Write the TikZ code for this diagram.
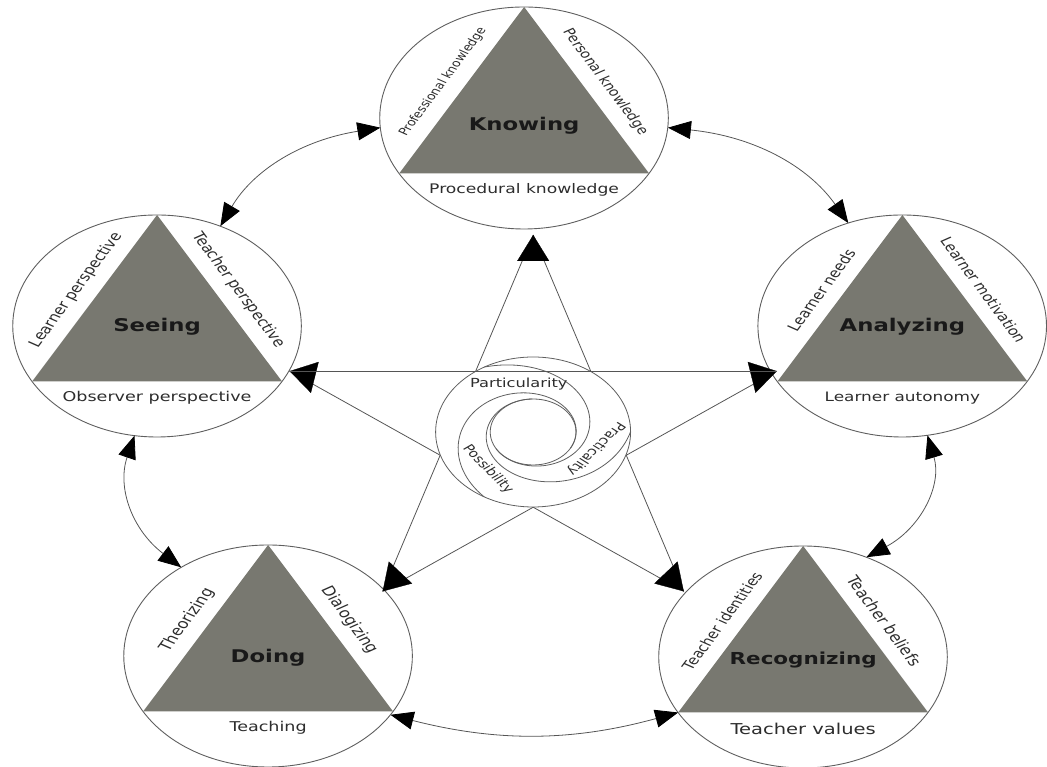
\documentclass[tikz,border=0pt]{standalone}
\usepackage{fontspec}
\setmainfont{DejaVu Sans}
\usetikzlibrary{calc,arrows.meta}
\definecolor{trigray}{RGB}{120,120,112}
\definecolor{edgegray}{RGB}{95,95,95}
\definecolor{linegray}{RGB}{85,85,85}
\definecolor{labcol}{RGB}{45,45,45}
\newcommand\fsz[1]{\fontsize{#1}{#1}\selectfont}
\tikzset{
  unit/.style={circle, draw=edgegray, line width=0.9pt, fill=white, minimum size=222pt, inner sep=0pt, outer sep=0pt, transform shape},
  tri/.style={fill=trigray},
  ttl/.style={transform shape, inner sep=0pt, font=\bfseries\fsz{17.5}, text=black!90},
  lab/.style={transform shape, inner sep=0pt, text=labcol},
  link/.style={draw=linegray, line width=0.8pt, {Triangle[length=23pt,width=18pt,color=black]}-{Triangle[length=23pt,width=18pt,color=black]}},
  starline/.style={draw=linegray, line width=0.8pt},
  startip/.style={draw=black, line width=0.3pt, -{Triangle[length=26pt,width=32pt,color=black]}},
  swirl/.style={draw=edgegray, line width=0.8pt},
  swlab/.style={transform shape, inner sep=0pt, text=labcol, font=\fsz{11.5}},
}
\newcommand\kunit[7]{%
  \node[unit] (#1) at (#2) {};
  \fill[tri] (#1.90) -- (#1.210) -- (#1.330) -- cycle;
  \node[ttl] (#1-t) at ($(#1)+(0,#3)$) {#4};
  \node[lab, rotate=60] (#1-l) at ($(#1)+(150:72)$) {#5};
  \node[lab, rotate=-60] (#1-r) at ($(#1)+(30:72)$) {#6};
  \node[lab] (#1-b) at ($(#1)+(0,-72)$) {#7};
}
\begin{document}
\begin{tikzpicture}[x=1pt, y=1pt, xscale=1.3]
\useasboundingbox (0,0) rectangle (805.385,767);

% five units
\kunit{K}{403.1,649}{-8}{Knowing}{\fsz{10.5}Professional knowledge}{\fsz{12}Personal knowledge}{\fsz{13.2}Procedural knowledge}
\kunit{S}{120.8,441}{-1}{Seeing}{\fsz{13}Learner perspective}{\fsz{13}Teacher perspective}{\fsz{13.5}Observer perspective}
\kunit{A}{694,441}{-1}{Analyzing}{\fsz{12.8}Learner needs}{\fsz{12.5}Learner motivation}{\fsz{13}Learner autonomy}
\kunit{D}{206.2,111}{-2}{Doing}{\fsz{13.5}Theorizing}{\fsz{13.5}Dialogizing}{\fsz{13.5}Teaching}
\kunit{R}{617.7,110}{-3}{\fsz{16.5}Recognizing}{\fsz{12.5}Teacher identities}{\fsz{13.5}Teacher beliefs}{\fsz{15}Teacher values}

% outer ring of double arrows
\draw[link] (S.64) to[bend left=27] (K.185);
\draw[link] (K.355) to[bend left=27] (A.112);
\draw[link] (A.280) to[bend left=34] (R.64);
\draw[link] (D.127) to[bend left=30] (S.261);
\draw[link] (R.210) to[bend left=19] (D.328);

% star
\coordinate (sc) at (410,335);
\foreach \i/\a in {1/90,2/162,3/234,4/306,5/18}
  \coordinate (v\i) at ($(sc)+(\a:197)$);
\draw[starline] (v1) -- (v3);
\draw[starline] (v1) -- (v4);
\draw[starline] (v2) -- (v4);
\draw[starline] (v5) -- (v3);
\draw[starline] (v2) -- (v5);
\foreach \i in {1,...,5}
  \draw[startip] ($(sc)!0.9!(v\i)$) -- (v\i);

% central swirl
\node[circle, draw=edgegray, line width=0.8pt, fill=white, minimum size=150pt, inner sep=0pt, outer sep=0pt, transform shape] (sw) at (sc) {};
\node[circle, draw=edgegray, line width=0.8pt, minimum size=66pt, inner sep=0pt, outer sep=0pt, transform shape] (swi) at (sc) {};
\foreach \s in {240,120,0}
  \draw[swirl] plot[domain=0:0.998, samples=90, variable=\t]
    ({410+(33+42*(1-\t)^2.5)*cos(\s-270*\t)}, {335+(33+42*(1-\t)^2.5)*sin(\s-270*\t)});
\draw[starline] (v2) -- (v5);
\node[swlab, font=\fsz{12.5}] (par) at ($(sc)+(103:49)$) {Particularity};
\node[swlab, rotate=-53] (pos) at ($(sc)+(227:51)$) {Possibility};
\node[swlab, rotate=-129] (pra) at ($(sc)+(-19:51)$) {Practicality};
\end{tikzpicture}
\end{document}
